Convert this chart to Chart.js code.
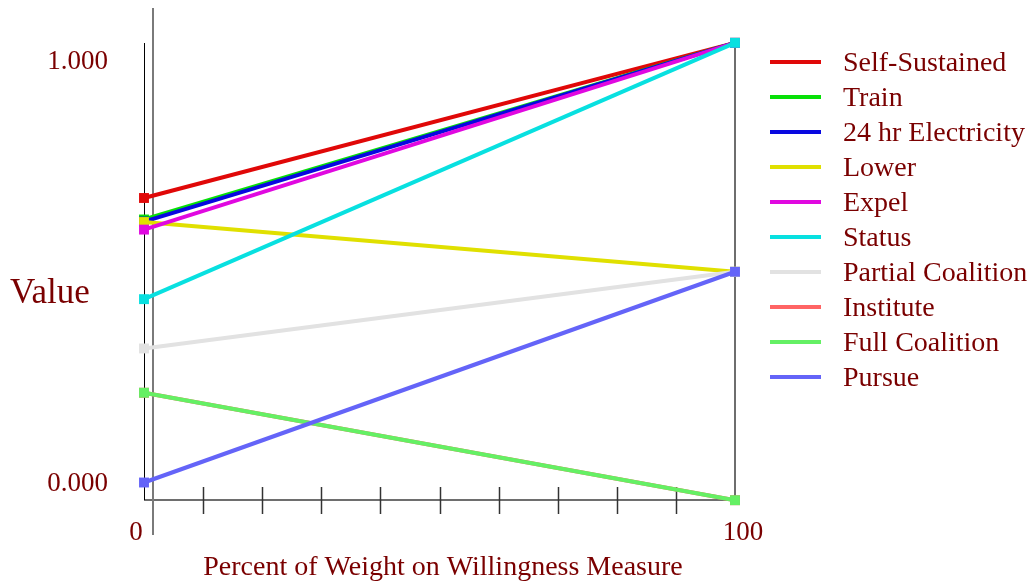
<!DOCTYPE html>
<html>
<head>
<meta charset="utf-8">
<script src="https://cdn.jsdelivr.net/npm/chart.js@4/dist/chart.umd.min.js"></script>
<style>
body{margin:0;background:#fff;}
#wrap{position:relative;width:1032px;height:586px;}
#c{position:absolute;left:0;top:0;}
#legend{position:absolute;left:770px;top:44px;font-family:"Liberation Serif","Times New Roman",serif;font-size:28px;color:#7a0000;}
.li{height:35px;display:flex;align-items:center;white-space:nowrap;}
.ln{width:51px;height:4px;margin-right:22px;}
</style>
</head>
<body>
<div id="wrap">
<canvas id="c" width="1032" height="586"></canvas>
<div id="legend"></div>
</div>
<script>
// ── data ──────────────────────────────
const weights=[0,100];
const names=['Self-Sustained','Train','24 hr Electricity','Lower','Expel','Status','Partial Coalition','Institute','Full Coalition','Pursue'];
const colors=['#e00808','#08e008','#0808e0','#e0e000','#e008e0','#08e0e0','#e2e2e2','#ff6464','#64f064','#6464f8'];
const selfSustained=[0.675,1.043];
const train=[0.624,1.043];
const elec24=[0.619,1.043];
const lower=[0.618,0.500];
const expel=[0.600,1.043];
const status=[0.435,1.043];
const partial=[0.318,0.500];
const institute=[0.213,-0.042];
const fullCoal=[0.213,-0.042];
const pursue=[0.000,0.500];
const series=[selfSustained,train,elec24,lower,expel,status,partial,institute,fullCoal,pursue];
const yTicks=[0,1];
const xTicks=[0,10,20,30,40,50,60,70,80,90,100];
const yMin=-0.0415, yMax=1.0427;

const TXT='#7a0000', SERIF='"Liberation Serif","Times New Roman",serif';

const axesPlugin={
  id:'axes',
  beforeDatasetsDraw(ch){
    const c=ch.ctx, a=ch.chartArea, xs=ch.scales.x;
    c.save();
    // bottom axis
    c.strokeStyle='#6e6e6e';c.lineWidth=2;
    c.beginPath();c.moveTo(a.left,a.bottom);c.lineTo(a.right+1,a.bottom);c.stroke();
    // right edge
    c.beginPath();c.moveTo(a.right,a.top+2);c.lineTo(a.right,a.bottom);c.stroke();
    // offset vertical axis
    c.strokeStyle='#7a7a7a';
    c.beginPath();c.moveTo(a.left+9,8);c.lineTo(a.left+9,a.bottom+35);c.stroke();
    // thin black edge
    c.strokeStyle='#000';c.lineWidth=1;
    c.beginPath();c.moveTo(a.left+0.5,a.top);c.lineTo(a.left+0.5,a.bottom);c.stroke();
    // ticks
    c.strokeStyle='#333';c.lineWidth=1.5;
    xTicks.slice(1,-1).forEach(v=>{
      const x=Math.round(xs.getPixelForValue(v))+0.5;
      c.beginPath();c.moveTo(x,a.bottom-13);c.lineTo(x,a.bottom+14);c.stroke();
    });
    c.restore();
  },
  afterDraw(ch){
    const c=ch.ctx, a=ch.chartArea, xs=ch.scales.x, ys=ch.scales.y;
    c.save();
    c.fillStyle=TXT;c.textBaseline='middle';
    c.font='27px '+SERIF;c.textAlign='right';
    yTicks.forEach(v=>c.fillText(v.toFixed(3),108,ys.getPixelForValue(v)+1));
    c.textAlign='center';
    c.fillText(String(xTicks[0]),xs.getPixelForValue(xTicks[0])-8,533);
    c.fillText(String(xTicks[xTicks.length-1]),xs.getPixelForValue(xTicks[xTicks.length-1])+8,533);
    c.font='28px '+SERIF;
    c.fillText('Percent of Weight on Willingness Measure',443,568);
    c.font='35px '+SERIF;c.textAlign='left';
    c.fillText('Value',10,294);
    c.restore();
  }
};

const datasets=names.map((n,i)=>({
  label:n,
  data:weights.map((w,j)=>({x:w,y:series[i][j]})),
  borderColor:colors[i],backgroundColor:colors[i],
  borderWidth:4,pointStyle:'rect',pointRadius:7,pointBorderWidth:0,
  clip:false,order:names.length-i
}));

new Chart(document.getElementById('c'),{
  type:'line',
  data:{datasets},
  plugins:[axesPlugin],
  options:{
    responsive:false,animation:false,
    layout:{padding:{left:144,right:297,top:43,bottom:86}},
    plugins:{legend:{display:false},tooltip:{enabled:false}},
    scales:{
      x:{type:'linear',min:0,max:100,display:false},
      y:{type:'linear',min:yMin,max:yMax,display:false}
    }
  }
});

document.getElementById('legend').innerHTML=names.map((n,i)=>
  `<div class="li"><div class="ln" style="background:${colors[i]}"></div><span>${n}</span></div>`).join('');
</script>
</body>
</html>
